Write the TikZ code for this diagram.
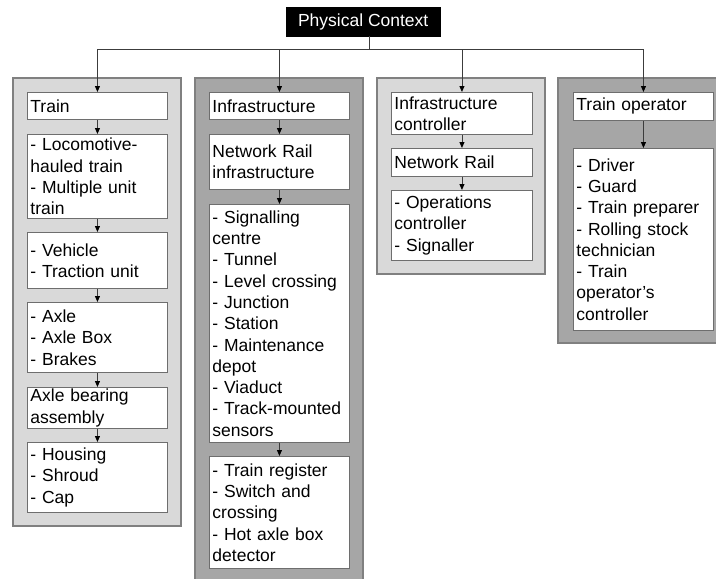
\documentclass[tikz,border=0pt]{standalone}
\usepackage{fontspec}
\setmainfont{Liberation Sans}
\usetikzlibrary{arrows.meta}

\definecolor{panellight}{HTML}{D9D9D9}
\definecolor{paneldark}{HTML}{A6A6A6}
\definecolor{panelline}{HTML}{808080}
\definecolor{boxline}{HTML}{6E6E6E}
\definecolor{wire}{HTML}{3C3C3C}

\newcommand\labelfont{\fontsize{17.5}{21.3}\selectfont\hyphenpenalty=10000\exhyphenpenalty=10000}

\tikzset{
  lightpanel/.style={fill=panellight, draw=panelline, line width=1.2pt},
  darkpanel/.style={fill=paneldark, draw=panelline, line width=1.2pt},
  item/.style={draw=boxline, fill=white, line width=0.9pt, anchor=north west,
    inner xsep=3pt, inner ysep=0pt, align=left, font=\labelfont,
    minimum width=140pt, text width=134pt},
  wideitem/.style={item, minimum width=141pt, text width=135pt},
  headbox/.style={fill=black, draw=black, text=white, font=\labelfont,
    anchor=north west, minimum width=154pt, minimum height=29pt, inner sep=0pt},
  arr/.style={draw=wire, line width=0.9pt,
    -{Triangle[length=6pt,width=5pt,fill=black,color=black]}},
}

\begin{document}
\begin{tikzpicture}[x=1pt, y=-1pt]
\useasboundingbox (0,0) rectangle (716,579);
\clip (0,0) rectangle (716,579);

% grouping panels
\path[lightpanel] (13,78) rectangle (181,526);
\path[darkpanel] (195,78) rectangle (363,600);
\path[lightpanel] (377,78) rectangle (545,274);
\path[darkpanel] (558,78) rectangle (740,343);

% root
\node[headbox] (pc) at (286,7) {Physical Context};

% train column
\node[item, minimum height=27pt] (train) at (27,92) {Train};
\node[item, minimum height=84pt] (loco) at (27,134) {- Locomotive-\\hauled train\\- Multiple unit\\train};
\node[item, minimum height=56pt] (vehicle) at (27,232) {- Vehicle\\- Traction unit};
\node[item, minimum height=70pt] (axle) at (27,302) {- Axle\\- Axle Box\\- Brakes};
\node[item, minimum height=41pt] (bearing) at (27,387) {Axle bearing\\assembly};
\node[item, minimum height=70pt] (housing) at (27,442) {- Housing\\- Shroud\\- Cap};

% infrastructure column
\node[item, minimum height=27pt] (infra) at (209,92) {Infrastructure};
\node[item, minimum height=55pt] (nri) at (209,134) {Network Rail\\infrastructure};
\node[item, minimum height=238pt] (sites) at (209,204) {- Signalling\\centre\\- Tunnel\\- Level crossing\\- Junction\\- Station\\- Maintenance\\depot\\- Viaduct\\- Track-mounted\\sensors};
\node[item, minimum height=112pt] (trackside) at (209,456) {- Train register\\- Switch and\\crossing\\- Hot axle box\\detector};

% infrastructure controller column
\node[wideitem, minimum height=42pt] (ic) at (391,92) {Infrastructure\\controller};
\node[wideitem, minimum height=28pt] (nr) at (391,148) {Network Rail};
\node[wideitem, minimum height=70pt] (ops) at (391,190) {- Operations\\controller\\- Signaller};

% train operator column
\node[item, minimum height=28pt] (toc) at (573,92) {Train operator};
\node[item, minimum height=182pt] (staff) at (573,148) {- Driver\\- Guard\\- Train preparer\\- Rolling stock\\technician\\- Train\\operator’s\\controller};

% distribution from the root: the drop leaves the box right of its centre
\coordinate (bus) at (369,49);
\draw[arr] (bus |- pc.south) -- (bus) -| (train.north);
\draw[arr] (bus |- pc.south) -- (bus) -| (infra.north);
\draw[arr] (bus |- pc.south) -- (bus) -| (ic.north);
\draw[arr] (bus |- pc.south) -- (bus) -| (toc.north);

% refinements inside each column
\draw[arr] (train) -- (loco);
\draw[arr] (loco) -- (vehicle);
\draw[arr] (vehicle) -- (axle);
\draw[arr] (axle) -- (bearing);
\draw[arr] (bearing) -- (housing);

\draw[arr] (infra) -- (nri);
\draw[arr] (nri) -- (sites);
\draw[arr] (sites) -- (trackside);

\draw[arr] (ic) -- (nr);
\draw[arr] (nr) -- (ops);

\draw[arr] (toc) -- (staff);
\end{tikzpicture}
\end{document}
